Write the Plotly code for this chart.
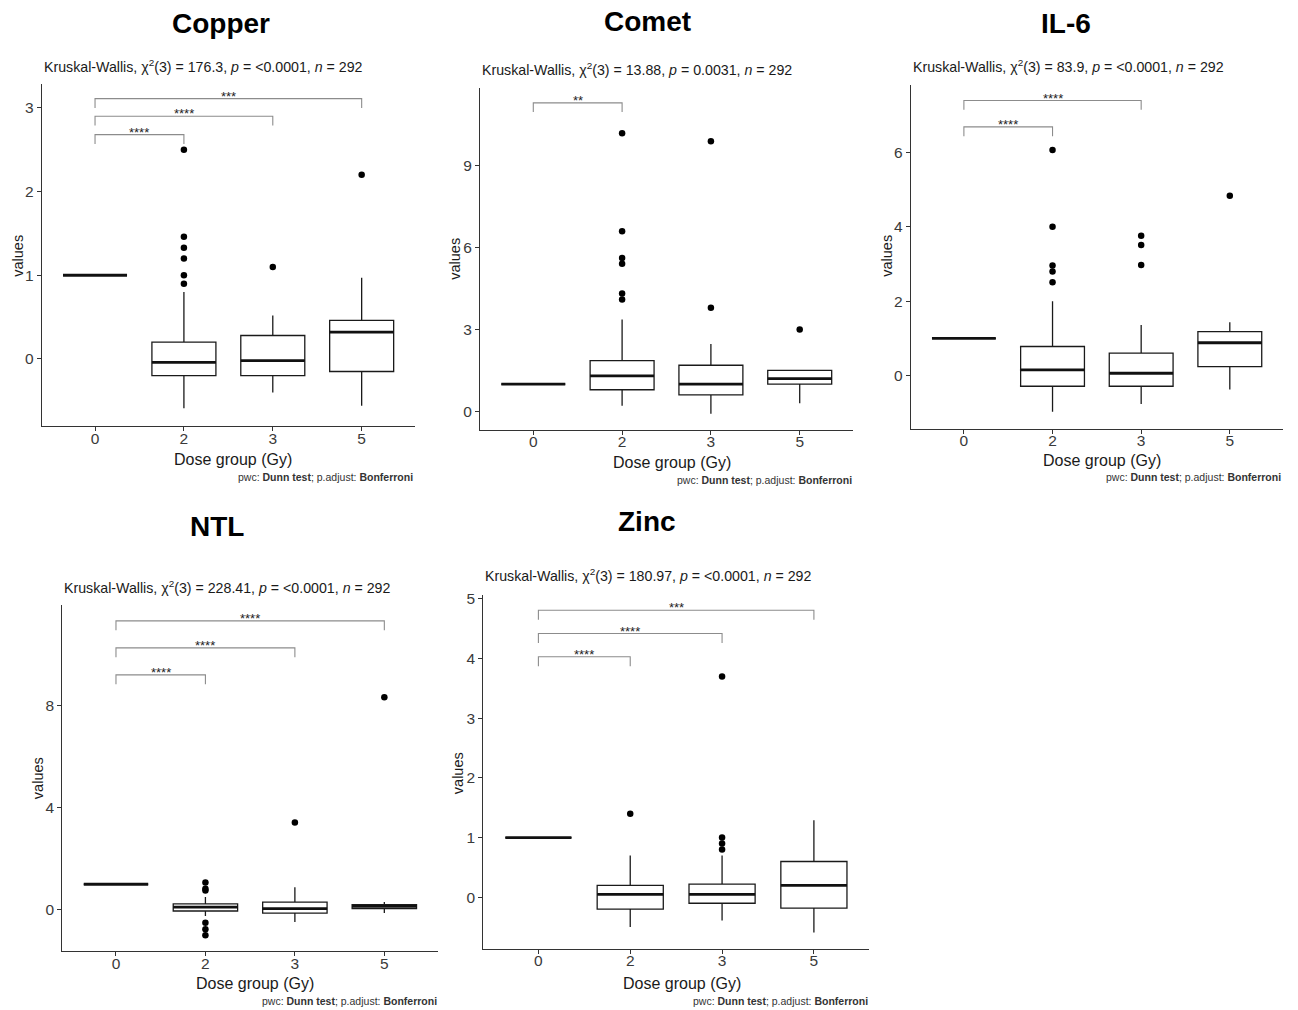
import plotly.graph_objects as go

W, H = 1298, 1010

doses = ["0", "2", "3", "5"]

# ---------------- Copper ----------------
copper_q1 = [1.0, -0.20, -0.20, -0.15]
copper_med = [1.0, -0.04, -0.02, 0.32]
copper_q3 = [1.0, 0.20, 0.28, 0.46]
copper_lo = [1.0, -0.59, -0.40, -0.56]
copper_hi = [1.0, 0.80, 0.52, 0.97]
copper_out_dose = ["2", "2", "2", "2", "2", "2", "3", "5"]
copper_out_val = [0.90, 1.00, 1.20, 1.33, 1.46, 2.50, 1.10, 2.20]
copper_cmp_dose = ["2", "3", "5"]
copper_cmp_y = [2.68, 2.90, 3.11]
copper_cmp_sig = ["****", "****", "***"]
copper_chi2 = "176.3"
copper_p = "&lt;0.0001"
copper_yticks = [0, 1, 2, 3]

# ---------------- Comet ----------------
comet_q1 = [1.0, 0.79, 0.60, 1.00]
comet_med = [1.0, 1.30, 1.00, 1.20]
comet_q3 = [1.0, 1.86, 1.69, 1.50]
comet_lo = [1.0, 0.20, -0.09, 0.30]
comet_hi = [1.0, 3.37, 2.47, 1.50]
comet_out_dose = ["2", "2", "2", "2", "2", "2", "3", "3", "5"]
comet_out_val = [4.10, 4.32, 5.41, 5.62, 6.60, 10.20, 3.80, 9.90, 3.00]
comet_cmp_dose = ["2"]
comet_cmp_y = [11.31]
comet_cmp_sig = ["**"]
comet_chi2 = "13.88"
comet_p = "0.0031"
comet_yticks = [0, 3, 6, 9]

# ---------------- IL-6 ----------------
il6_q1 = [1.0, -0.29, -0.29, 0.24]
il6_med = [1.0, 0.15, 0.06, 0.88]
il6_q3 = [1.0, 0.78, 0.60, 1.18]
il6_lo = [1.0, -0.98, -0.77, -0.38]
il6_hi = [1.0, 2.00, 1.36, 1.43]
il6_out_dose = ["2", "2", "2", "2", "2", "3", "3", "3", "5"]
il6_out_val = [2.51, 2.80, 2.96, 4.00, 6.07, 2.97, 3.51, 3.76, 4.84]
il6_cmp_dose = ["2", "3"]
il6_cmp_y = [6.69, 7.40]
il6_cmp_sig = ["****", "****"]
il6_chi2 = "83.9"
il6_p = "&lt;0.0001"
il6_yticks = [0, 2, 4, 6]

# ---------------- NTL ----------------
ntl_q1 = [1.0, -0.05, -0.13, 0.04]
ntl_med = [1.0, 0.10, 0.04, 0.13]
ntl_q3 = [1.0, 0.23, 0.30, 0.20]
ntl_lo = [1.0, -0.25, -0.48, -0.13]
ntl_hi = [1.0, 0.50, 0.88, 0.30]
ntl_out_dose = ["2", "2", "2", "2", "2", "2", "3", "5"]
ntl_out_val = [0.75, 0.82, 1.07, -0.51, -0.77, -1.00, 3.42, 8.34]
ntl_cmp_dose = ["2", "3", "5"]
ntl_cmp_y = [9.22, 10.28, 11.34]
ntl_cmp_sig = ["****", "****", "****"]
ntl_chi2 = "228.41"
ntl_p = "&lt;0.0001"
ntl_yticks = [0, 4, 8]

# ---------------- Zinc ----------------
zinc_q1 = [1.0, -0.20, -0.10, -0.18]
zinc_med = [1.0, 0.05, 0.05, 0.20]
zinc_q3 = [1.0, 0.20, 0.22, 0.60]
zinc_lo = [1.0, -0.50, -0.39, -0.59]
zinc_hi = [1.0, 0.70, 0.70, 1.29]
zinc_out_dose = ["2", "3", "3", "3", "3"]
zinc_out_val = [1.40, 0.80, 0.90, 1.00, 3.70]
zinc_cmp_dose = ["2", "3", "5"]
zinc_cmp_y = [4.03, 4.42, 4.81]
zinc_cmp_sig = ["****", "****", "***"]
zinc_chi2 = "180.97"
zinc_p = "&lt;0.0001"
zinc_yticks = [0, 1, 2, 3, 4, 5]

n_total = 292

# ---------------- layout (pixel geometry) ----------------
panels = [
    dict(name="Copper", q1=copper_q1, med=copper_med, q3=copper_q3, lo=copper_lo, hi=copper_hi,
         od=copper_out_dose, ov=copper_out_val, cd=copper_cmp_dose, cy=copper_cmp_y, cs=copper_cmp_sig,
         chi=copper_chi2, p=copper_p, yt=copper_yticks,
         box=(41.7, 79, 415, 423), yr=(-0.80, 3.29),
         title=(221, 19), sub=(61.7,), xl=(233, 457), yl=(18, 252), cap=(415, 474)),
    dict(name="Comet", q1=comet_q1, med=comet_med, q3=comet_q3, lo=comet_lo, hi=comet_hi,
         od=comet_out_dose, ov=comet_out_val, cd=comet_cmp_dose, cy=comet_cmp_y, cs=comet_cmp_sig,
         chi=comet_chi2, p=comet_p, yt=comet_yticks,
         box=(480, 83, 853, 426.7), yr=(-0.67, 11.87),
         title=(647, 17), sub=(64.5,), xl=(672, 460), yl=(455, 255), cap=(854, 477)),
    dict(name="IL-6", q1=il6_q1, med=il6_med, q3=il6_q3, lo=il6_lo, hi=il6_hi,
         od=il6_out_dose, ov=il6_out_val, cd=il6_cmp_dose, cy=il6_cmp_y, cs=il6_cmp_sig,
         chi=il6_chi2, p=il6_p, yt=il6_yticks,
         box=(910.7, 80.7, 1283, 425.7), yr=(-1.43, 7.81),
         title=(1066, 19), sub=(61.7,), xl=(1102, 458), yl=(887, 252), cap=(1283, 474)),
    dict(name="NTL", q1=ntl_q1, med=ntl_med, q3=ntl_q3, lo=ntl_lo, hi=ntl_hi,
         od=ntl_out_dose, ov=ntl_out_val, cd=ntl_cmp_dose, cy=ntl_cmp_y, cs=ntl_cmp_sig,
         chi=ntl_chi2, p=ntl_p, yt=ntl_yticks,
         box=(62.3, 603.3, 438, 950.7), yr=(-1.62, 11.95),
         title=(217, 524), sub=(585,), xl=(255, 983), yl=(38, 777), cap=(439, 1001)),
    dict(name="Zinc", q1=zinc_q1, med=zinc_med, q3=zinc_q3, lo=zinc_lo, hi=zinc_hi,
         od=zinc_out_dose, ov=zinc_out_val, cd=zinc_cmp_dose, cy=zinc_cmp_y, cs=zinc_cmp_sig,
         chi=zinc_chi2, p=zinc_p, yt=zinc_yticks,
         box=(483.3, 593.3, 869, 948.3), yr=(-0.86, 5.06),
         title=(647, 519), sub=(573,), xl=(682, 983), yl=(458, 772), cap=(870, 1001)),
]

BOXW = 0.72
FONT = "Liberation Sans, Arial, sans-serif"


def fx(x):
    return x / W


def fy(y):
    return 1 - y / H


fig = go.Figure()
annotations = []
layout_axes = {}

for i, pn in enumerate(panels):
    k = "" if i == 0 else str(i + 1)
    xa, ya = "x" + k, "y" + k
    pos = list(range(len(doses)))
    x0, y0, x1, y1 = pn["box"]
    # boxes
    fig.add_trace(go.Box(
        x=pos, q1=pn["q1"], median=pn["med"], q3=pn["q3"],
        lowerfence=pn["lo"], upperfence=pn["hi"], orientation="v",
        boxpoints=False, fillcolor="white", whiskerwidth=0, width=BOXW,
        line=dict(color="#1a1a1a", width=1.3), xaxis=xa, yaxis=ya,
        showlegend=False, hoverinfo="skip"))
    # thick medians
    mx, my = [], []
    for p_, m in zip(pos, pn["med"]):
        mx += [p_ - BOXW / 2, p_ + BOXW / 2, None]
        my += [m, m, None]
    fig.add_trace(go.Scatter(x=mx, y=my, mode="lines", line=dict(color="#111", width=2.8),
                             xaxis=xa, yaxis=ya, showlegend=False, hoverinfo="skip"))
    # outliers
    fig.add_trace(go.Scatter(x=[doses.index(d) for d in pn["od"]], y=pn["ov"], mode="markers",
                             marker=dict(color="black", size=6.5), xaxis=xa, yaxis=ya,
                             showlegend=False, hoverinfo="skip"))
    # brackets
    tip = 0.027 * (pn["yr"][1] - pn["yr"][0])
    bx, by = [], []
    for d, yv, s in zip(pn["cd"], pn["cy"], pn["cs"]):
        j = doses.index(d)
        bx += [0, 0, j, j, None]
        by += [yv - tip, yv, yv, yv - tip, None]
        annotations.append(dict(x=j / 2, y=yv, xref=xa, yref=ya, text=s, showarrow=False,
                                yanchor="middle", yshift=2.5,
                                font=dict(family=FONT, size=13, color="#222222")))
    fig.add_trace(go.Scatter(x=bx, y=by, mode="lines", line=dict(color="#8c8c8c", width=1.1),
                             xaxis=xa, yaxis=ya, showlegend=False, hoverinfo="skip"))

    layout_axes["xaxis" + k] = dict(
        domain=[fx(x0), fx(x1)], range=[-0.6, 3.6], anchor=ya,
        tickvals=pos, ticktext=doses, showline=True, linecolor="#333", linewidth=1.2,
        ticks="outside", ticklen=4, tickcolor="#333", showgrid=False, zeroline=False,
        ticklabelstandoff=-6,
        tickfont=dict(family=FONT, size=15.5, color="#3a3a3a"), fixedrange=True)
    layout_axes["yaxis" + k] = dict(
        domain=[fy(y1), fy(y0)], range=list(pn["yr"]), anchor=xa,
        tickvals=pn["yt"], showline=True, linecolor="#333", linewidth=1.2,
        ticks="outside", ticklen=4, tickcolor="#333", showgrid=False, zeroline=False,
        tickfont=dict(family=FONT, size=15.5, color="#3a3a3a"), fixedrange=True)

    # text
    tx, ty = pn["title"]
    annotations.append(dict(x=fx(tx), y=fy(ty), xref="paper", yref="paper", text="<b>%s</b>" % pn["name"],
                            showarrow=False, xanchor="center", yanchor="middle",
                            font=dict(family=FONT, size=28, color="black")))
    annotations.append(dict(x=fx(x0), y=fy(pn["sub"][0]), xref="paper", yref="paper",
                            text="Kruskal-Wallis, χ<sup>2</sup>(3) = %s, <i>p</i> = %s, <i>n</i> = %d"
                                 % (pn["chi"], pn["p"], n_total),
                            showarrow=False, xanchor="left", yanchor="middle",
                            font=dict(family=FONT, size=14.2, color="#1a1a1a")))
    annotations.append(dict(x=fx(pn["xl"][0]), y=fy(pn["xl"][1]), xref="paper", yref="paper",
                            text="Dose group (Gy)", showarrow=False, xanchor="center", yanchor="middle",
                            font=dict(family=FONT, size=16, color="#1a1a1a")))
    annotations.append(dict(x=fx(pn["yl"][0]), y=fy(pn["yl"][1]), xref="paper", yref="paper",
                            text="values", showarrow=False, xanchor="center", yanchor="middle",
                            textangle=-90, font=dict(family=FONT, size=14.5, color="#1a1a1a")))
    annotations.append(dict(x=fx(pn["cap"][0]), y=fy(pn["cap"][1]), xref="paper", yref="paper",
                            text="pwc: <b>Dunn test</b>; p.adjust: <b>Bonferroni</b>",
                            showarrow=False, xanchor="right", yanchor="middle",
                            font=dict(family=FONT, size=10.5, color="#333333")))

fig.update_layout(width=W, height=H, margin=dict(l=0, r=0, t=0, b=0),
                  paper_bgcolor="white", plot_bgcolor="white",
                  annotations=annotations, **layout_axes)

fig.write_html("out.html", config={"displayModeBar": False},
               post_script="document.body.style.margin='0';document.body.style.padding='0';"
                           "document.body.style.overflow='hidden';")
